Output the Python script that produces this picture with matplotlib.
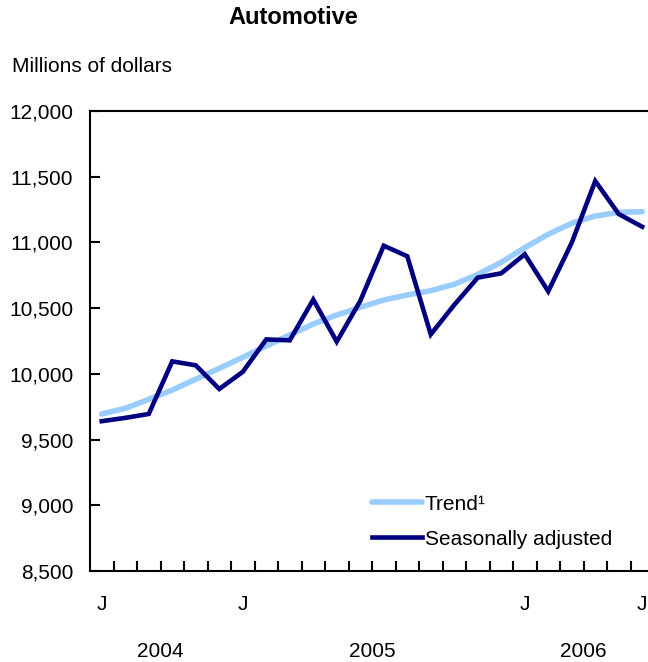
import matplotlib
matplotlib.use("Agg")
import matplotlib.pyplot as plt
from matplotlib.ticker import FixedLocator, FuncFormatter

plt.rcParams['font.family'] = ['Liberation Sans', 'DejaVu Sans']

# ===== Data (July 2004 .. June 2006, millions of dollars) =====
months = ['Jul', 'Aug', 'Sep', 'Oct', 'Nov', 'Dec',
          'Jan', 'Feb', 'Mar', 'Apr', 'May', 'Jun', 'Jul', 'Aug', 'Sep', 'Oct', 'Nov', 'Dec',
          'Jan', 'Feb', 'Mar', 'Apr', 'May', 'Jun']
month_labels = {0: 'J', 6: 'J', 18: 'J', 23: 'J'}
years = ['2004', '2005', '2006']
year_centers = [2.5, 11.5, 20.5]

seasonally_adjusted = [9640, 9665, 9695, 10095, 10065, 9885, 10015, 10262, 10255, 10565,
                       10245, 10555, 10975, 10895, 10300, 10525, 10732, 10765, 10910, 10628,
                       10998, 11467, 11216, 11119]
trend = [9695, 9738, 9806, 9877, 9959, 10042, 10126, 10212, 10296, 10379,
         10448, 10506, 10562, 10600, 10633, 10681, 10757, 10849, 10960, 11062,
         11146, 11201, 11229, 11234]

COL = {'trend': '#99ccff', 'sa': '#000080'}
FS = 15

fig = plt.figure(figsize=(6.48, 6.62), dpi=100)
ax = fig.add_axes([90/648, 91/662, 564/648, 460/662])

x = list(range(len(months)))
ax.plot(x, trend, color=COL['trend'], lw=4.0, solid_capstyle='round', label='Trend\u00b9')
ax.plot(x, seasonally_adjusted, color=COL['sa'], lw=3.3, solid_joinstyle='miter', label='Seasonally adjusted')

ax.set_xlim(-0.5, len(months) - 0.5)
ax.set_ylim(8500, 12000)

# y axis
ax.yaxis.set_major_locator(FixedLocator(range(8500, 12001, 500)))
ax.yaxis.set_major_formatter(FuncFormatter(lambda v, p: f'{int(v):,}'))
ax.tick_params(axis='y', direction='in', length=7, width=1.5, labelsize=FS, pad=12)

# x axis: ticks at month boundaries, labels drawn as text
ax.set_xticks([i + 0.5 for i in range(len(months) - 1)])
ax.set_xticklabels([])
ax.tick_params(axis='x', direction='in', length=7, width=1.5)
for i, lab in month_labels.items():
    ax.text(i, -0.073, lab, transform=ax.get_xaxis_transform(), ha='center', va='center', fontsize=FS)
for c, y in zip(year_centers, years):
    ax.text(c, -0.174, y, transform=ax.get_xaxis_transform(), ha='center', va='center', fontsize=FS)

for s in ax.spines.values():
    s.set_linewidth(1.5)

fig.text(293/648, 1 - 18/662, 'Automotive', ha='center', va='center', fontsize=17, fontweight='bold')
fig.text(12/648, 1 - 66/662, 'Millions of dollars', ha='left', va='center', fontsize=FS)

ax.legend(loc='lower left', bbox_to_anchor=(261/564, 0.003), frameon=False, fontsize=FS,
          handlelength=2.4, handletextpad=0.15, labelspacing=0.78, borderaxespad=0.6)

fig.savefig('out.png', dpi=100)
